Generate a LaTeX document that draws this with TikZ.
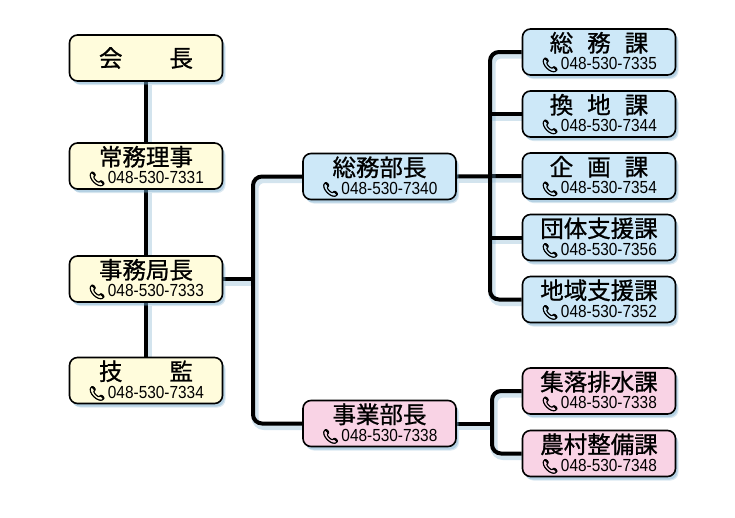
\documentclass[tikz,border=0pt]{standalone}
\usepackage{fontspec}
\setmainfont{Liberation Sans}
\newfontfamily\jpfont[FakeBold=0.9]{Noto Sans CJK JP}
\newfontfamily\telfont[FakeStretch=0.88]{Liberation Sans}
\newfontfamily\emofont[FakeBold=4]{Noto Emoji}
\usetikzlibrary{shadows,backgrounds}

\definecolor{headfill}{RGB}{255,252,220}
\definecolor{somufill}{RGB}{205,232,248}
\definecolor{jigyofill}{RGB}{249,211,229}
\definecolor{shadowc}{RGB}{110,165,200}

\newcommand{\tel}[1]{{\telfont\fontsize{17.5}{18}\selectfont{\emofont\fontsize{14}{14}\selectfont 📞}\hspace{2pt}#1}}

\tikzset{
  box/.style={draw, line width=1.6pt, rounded corners=8pt,
    minimum width=153pt, minimum height=46pt, inner sep=0pt,
    align=center, font=\jpfont\fontsize{23.5}{18}\selectfont,
    drop shadow={shadow xshift=3pt, shadow yshift=-4pt, fill=shadowc, opacity=.25},
    drop shadow={shadow xshift=2pt, shadow yshift=-3pt, fill=shadowc, opacity=.35}},
  headbox/.style={box, fill=headfill},
  somubox/.style={box, fill=somufill},
  jigyobox/.style={box, fill=jigyofill},
  conn/.style={line width=4pt, rounded corners=9pt,
    preaction={draw=shadowc, opacity=.3, line width=7pt,
      transform canvas={shift={(2pt,-3pt)}}}}
}

\begin{document}
\begin{tikzpicture}[x=1pt,y=-1pt]
\useasboundingbox (0,0) rectangle (735,517);

% left column
\node[headbox] (kaicho) at (146,58) {会\hspace{2em}長};
\node[headbox] (jomu) at (146,166) {常務理事\\\tel{048-530-7331}};
\node[headbox] (jimu) at (146,279) {事務局長\\\tel{048-530-7333}};
\node[headbox] (gikan) at (146,380.5) {技\hspace{2em}監\\\tel{048-530-7334}};

% bu
\node[somubox] (somubu) at (379.5,176.5) {総務部長\\\tel{048-530-7340}};
\node[jigyobox] (jigyobu) at (379.5,423.5) {事業部長\\\tel{048-530-7338}};

% ka
\node[somubox] (somuka) at (599,52) {総\hspace{14pt}務\hspace{14pt}課\\\tel{048-530-7335}};
\node[somubox] (kanchi) at (599,114) {換\hspace{14pt}地\hspace{14pt}課\\\tel{048-530-7344}};
\node[somubox] (kikaku) at (599,176) {企\hspace{14pt}画\hspace{14pt}課\\\tel{048-530-7354}};
\node[somubox] (dantai) at (599,237.5) {団体支援課\\\tel{048-530-7356}};
\node[somubox] (chiiki) at (599,299.5) {地域支援課\\\tel{048-530-7352}};
\node[jigyobox] (shuraku) at (599,391) {集落排水課\\\tel{048-530-7338}};
\node[jigyobox] (noson) at (599,453.5) {農村整備課\\\tel{048-530-7348}};

\coordinate (t1) at (253,0);
\coordinate (t2) at (490,0);
\coordinate (t3) at (492,0);

\begin{pgfonlayer}{background}
\draw[conn] (kaicho.south) -- (jomu.north);
\draw[conn] (jomu.south) -- (jimu.north);
\draw[conn] (jimu.south) -- (gikan.north);
\draw[conn] (jimu.east) -- (jimu.east -| t1);
\draw[conn] (somubu.west) -| (t1 |- jigyobu) -- (jigyobu.west);
\draw[conn] (somubu.east) -- (kikaku.west);
\draw[conn] (somuka.west) -| (t2 |- chiiki) -- (chiiki.west);
\draw[conn] (kanchi.west) -- (kanchi.west -| t2);
\draw[conn] (dantai.west) -- (dantai.west -| t2);
\draw[conn] (jigyobu.east) -- (jigyobu.east -| t3);
\draw[conn] (shuraku.west) -| (t3 |- noson) -- (noson.west);
\end{pgfonlayer}
\end{tikzpicture}
\end{document}
